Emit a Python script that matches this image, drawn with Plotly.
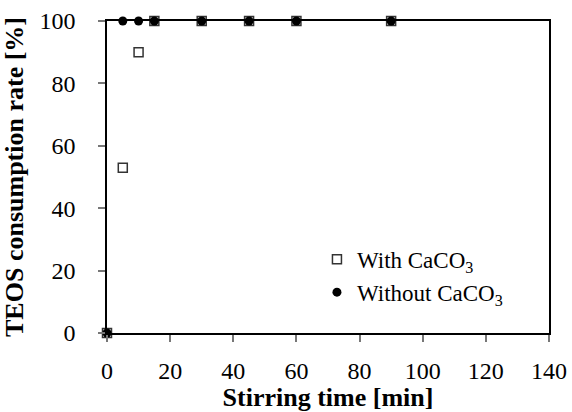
import plotly.graph_objects as go

time_with = [0, 5, 10, 15, 30, 45, 60, 90]
rate_with = [0, 53, 90, 100, 100, 100, 100, 100]
time_without = [0, 5, 10, 15, 30, 45, 60, 90]
rate_without = [0, 100, 100, 100, 100, 100, 100, 100]

fig = go.Figure()
fig.add_trace(go.Scatter(
    x=time_with, y=rate_with, mode="markers", name="With CaCO<sub>3</sub>",
    marker=dict(symbol="square-open", size=9, color="#333333", line=dict(width=1.5, color="#333333")),
    cliponaxis=False))
fig.add_trace(go.Scatter(
    x=time_without, y=rate_without, mode="markers", name="Without CaCO<sub>3</sub>",
    marker=dict(symbol="circle", size=9, color="black"),
    cliponaxis=False))

font = "Times New Roman, Liberation Serif, serif"
fig.update_layout(
    width=572, height=412,
    margin=dict(l=107, r=23, t=21, b=79),
    paper_bgcolor="white", plot_bgcolor="white",
    font=dict(family=font, size=24, color="black"),
    legend=dict(x=0.475, y=0.305, xanchor="left", yanchor="top",
                bgcolor="rgba(0,0,0,0)", font=dict(size=23, family=font),
                tracegroupgap=0, itemwidth=30),
    xaxis=dict(range=[0, 140], tickvals=[0, 20, 40, 60, 80, 100, 120, 140],
               showgrid=False, zeroline=False, showline=True, linecolor="black", linewidth=1.5,
               mirror=True, ticks="outside", ticklen=7, tickcolor="#777777", tickwidth=1.5,
               ticklabelstandoff=8, tickfont=dict(size=24, family=font), automargin=False,
               title=dict(text="<b>Stirring time [min]</b>", font=dict(size=26, family=font), standoff=2)),
    yaxis=dict(range=[0, 100], tickvals=[0, 20, 40, 60, 80, 100],
               showgrid=False, zeroline=False, showline=True, linecolor="black", linewidth=1.5,
               mirror=True, ticks="outside", ticklen=7, tickcolor="#777777", tickwidth=1.5,
               ticklabelstandoff=18, tickfont=dict(size=24, family=font), automargin=False,
               title=dict(text="<b>TEOS consumption rate [%]</b>", font=dict(size=26, family=font), standoff=8)),
)
fig.write_html("out.html")
